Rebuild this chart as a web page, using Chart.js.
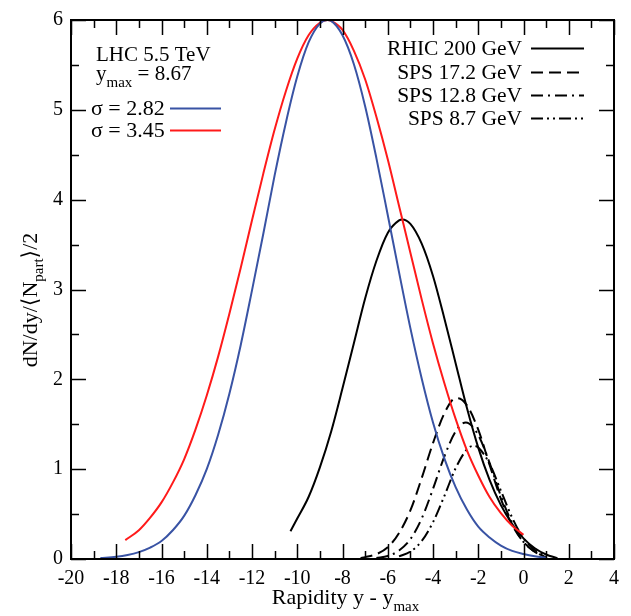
<!DOCTYPE html>
<html>
<head>
<meta charset="utf-8">
<script src="https://cdn.jsdelivr.net/npm/chart.js@4/dist/chart.umd.min.js"></script>
<style>
  html, body { margin: 0; padding: 0; background: #fff; }
  #wrap { width: 631px; height: 616px; }
</style>
</head>
<body>
<div id="wrap"><canvas id="myChart" width="631" height="616"></canvas></div>
<script>
// LHC 5.5 TeV, sigma = 2.82 (blue)
var xBlue = [-18.7, -18, -17.5, -17, -16.5, -16, -15.5, -15, -14.5, -14, -13.5, -13, -12.5, -12, -11.5, -11, -10.5, -10, -9.5, -9, -8.67, -8.5, -8, -7.5, -7, -6.5, -6, -5.5, -5, -4.5, -4, -3.5, -3, -2.5, -2, -1.5, -1, -0.5, 0, 0.5, 1];
var yBlue = [0.01, 0.025, 0.045, 0.077, 0.127, 0.2, 0.32, 0.48, 0.71, 1.0, 1.38, 1.84, 2.38, 2.99, 3.62, 4.27, 4.86, 5.37, 5.75, 5.96, 6.0, 5.99, 5.83, 5.51, 5.04, 4.46, 3.83, 3.19, 2.57, 2.01, 1.52, 1.12, 0.8, 0.55, 0.36, 0.24, 0.15, 0.09, 0.055, 0.03, 0.015];

// LHC 5.5 TeV, sigma = 3.45 (red)
var xRed = [-17.6, -17, -16.5, -16, -15.5, -15, -14.5, -14, -13.5, -13, -12.5, -12, -11.5, -11, -10.5, -10, -9.5, -9, -8.67, -8.5, -8, -7.5, -7, -6.5, -6, -5.5, -5, -4.5, -4, -3.5, -3, -2.5, -2, -1.5, -1, -0.5, 0];
var yRed = [0.21, 0.32, 0.46, 0.63, 0.85, 1.11, 1.44, 1.82, 2.25, 2.73, 3.24, 3.77, 4.29, 4.78, 5.21, 5.57, 5.83, 5.97, 6.0, 5.99, 5.89, 5.66, 5.34, 4.92, 4.45, 3.93, 3.41, 2.89, 2.4, 1.96, 1.56, 1.21, 0.93, 0.69, 0.51, 0.37, 0.27];

// RHIC 200 GeV
var xRhic = [-10.3, -10, -9.5, -9, -8.5, -8, -7.5, -7, -6.5, -6, -5.5, -5.36, -5, -4.5, -4, -3.5, -3, -2.5, -2, -1.5, -1, -0.5, 0, 0.5, 1, 1.5];
var yRhic = [0.31, 0.45, 0.69, 1.02, 1.42, 1.9, 2.4, 2.9, 3.32, 3.63, 3.77, 3.78, 3.73, 3.51, 3.15, 2.68, 2.18, 1.68, 1.24, 0.88, 0.6, 0.39, 0.23, 0.12, 0.05, 0.01];

// SPS 17.2 GeV
var xSps172 = [-7.2, -7, -6.5, -6, -5.5, -5, -4.5, -4, -3.5, -3, -2.9, -2.5, -2, -1.5, -1, -0.5, 0, 0.5, 1];
var ySps172 = [0.01, 0.02, 0.054, 0.13, 0.29, 0.54, 0.9, 1.29, 1.62, 1.79, 1.79, 1.71, 1.44, 1.05, 0.67, 0.38, 0.19, 0.08, 0.02];

// SPS 12.8 GeV
var xSps128 = [-6.5, -6, -5.5, -5, -4.5, -4, -3.5, -3, -2.55, -2, -1.5, -1, -0.5, 0, 0.5, 1];
var ySps128 = [0.01, 0.034, 0.094, 0.22, 0.45, 0.78, 1.14, 1.42, 1.52, 1.38, 1.07, 0.7, 0.4, 0.19, 0.08, 0.02];

// SPS 8.7 GeV
var xSps87 = [-5.5, -5, -4.5, -4, -3.5, -3, -2.5, -2.2, -2, -1.5, -1, -0.5, 0, 0.5, 1];
var ySps87 = [0.03, 0.083, 0.2, 0.41, 0.7, 1.01, 1.22, 1.26, 1.24, 1.06, 0.76, 0.46, 0.23, 0.1, 0.03];

var xTicksMin = -20, xTicksMax = 4;
var yTicksMin = 0, yTicksMax = 6;

function pts(xs, ys) {
    return xs.map(function (v, i) { return { x: v, y: ys[i] }; });
}

var DASH = [12, 6];
var DASHDOT = [12, 5, 2, 5];
var DASHDOTDOT = [12, 4, 2, 4, 2, 4];

function line(label, xs, ys, color, dash) {
    return {
        label: label,
        data: pts(xs, ys),
        borderColor: color,
        borderWidth: 2,
        borderDash: dash,
        pointRadius: 0,
        showLine: true,
        fill: false,
        cubicInterpolationMode: 'monotone'
    };
}

var SERIF = '"Liberation Serif", "DejaVu Serif", serif';

// inward ticks on all four sides, frame, legend texts, axis titles
var decor = {
    id: 'decor',
    afterDraw: function (chart) {
        var ctx = chart.ctx, a = chart.chartArea;
        var sx = chart.scales.x, sy = chart.scales.y;
        ctx.save();
        ctx.strokeStyle = '#000';
        ctx.lineWidth = 1.5;
        ctx.setLineDash([]);
        ctx.beginPath();
        for (var v = xTicksMin; v <= xTicksMax; v += 1) {
            var px = Math.round(sx.getPixelForValue(v)) + 0.5;
            var len = (v % 2 === 0) ? 15 : 8;
            ctx.moveTo(px, a.bottom); ctx.lineTo(px, a.bottom - len);
            ctx.moveTo(px, a.top); ctx.lineTo(px, a.top + len);
        }
        for (var w = yTicksMin; w <= yTicksMax; w += 0.5) {
            var py = Math.round(sy.getPixelForValue(w)) + 0.5;
            var l2 = Number.isInteger(w) ? 15 : 8;
            ctx.moveTo(a.left, py); ctx.lineTo(a.left + l2, py);
            ctx.moveTo(a.right, py); ctx.lineTo(a.right - l2, py);
        }
        ctx.stroke();
        ctx.lineWidth = 2;
        ctx.strokeRect(a.left, a.top, a.right - a.left, a.bottom - a.top);

        // left legend
        ctx.fillStyle = '#000';
        ctx.textAlign = 'left';
        ctx.textBaseline = 'alphabetic';
        ctx.font = '21px ' + SERIF;
        ctx.fillText('LHC 5.5 TeV', 96, 61);
        ctx.fillText('y', 96, 80);
        var wy = ctx.measureText('y').width;
        ctx.font = '15px ' + SERIF;
        ctx.fillText('max', 96 + wy, 87);
        var wm = ctx.measureText('max').width;
        ctx.font = '21px ' + SERIF;
        ctx.fillText(' = 8.67', 96 + wy + wm, 80);
        ctx.font = '22px ' + SERIF;
        ctx.fillText('\u03C3 = 2.82', 91, 115);
        ctx.fillText('\u03C3 = 3.45', 91, 137);
        ctx.lineWidth = 2;
        ctx.strokeStyle = '#3953a4';
        ctx.beginPath(); ctx.moveTo(170, 108.5); ctx.lineTo(221, 108.5); ctx.stroke();
        ctx.strokeStyle = '#ff1a1a';
        ctx.beginPath(); ctx.moveTo(170, 130.5); ctx.lineTo(221, 130.5); ctx.stroke();

        // right legend
        var rows = [
            ['RHIC 200 GeV', 55, []],
            ['SPS 17.2 GeV', 79, DASH],
            ['SPS 12.8 GeV', 102, DASHDOT],
            ['SPS 8.7 GeV', 125, DASHDOTDOT]
        ];
        ctx.font = '21.5px ' + SERIF;
        ctx.textAlign = 'right';
        ctx.strokeStyle = '#000';
        rows.forEach(function (r) {
            ctx.setLineDash([]);
            ctx.fillText(r[0], 522, r[1]);
            ctx.setLineDash(r[2]);
            ctx.beginPath(); ctx.moveTo(531, r[1] - 6.5); ctx.lineTo(584, r[1] - 6.5); ctx.stroke();
        });
        ctx.setLineDash([]);

        // x title
        ctx.textAlign = 'left';
        ctx.font = '22px ' + SERIF;
        var t1 = 'Rapidity y - y';
        var w1 = ctx.measureText(t1).width;
        ctx.font = '15px ' + SERIF;
        var w2 = ctx.measureText('max').width;
        var x0 = (a.left + a.right) / 2 - (w1 + w2) / 2 + 3;
        ctx.font = '22px ' + SERIF;
        ctx.fillText(t1, x0, 604);
        ctx.font = '15px ' + SERIF;
        ctx.fillText('max', x0 + w1, 611);

        // y title (rotated)
        ctx.save();
        ctx.translate(37, 300);
        ctx.rotate(-Math.PI / 2);
        ctx.font = '22px ' + SERIF;
        var p1 = 'dN/dy/\u27E8N', p3 = '\u27E9/2';
        var q1 = ctx.measureText(p1).width, q3 = ctx.measureText(p3).width;
        ctx.font = '15px ' + SERIF;
        var q2 = ctx.measureText('part').width;
        var s0 = -(q1 + q2 + q3) / 2;
        ctx.font = '22px ' + SERIF;
        ctx.fillText(p1, s0, 0);
        ctx.fillText(p3, s0 + q1 + q2, 0);
        ctx.font = '15px ' + SERIF;
        ctx.fillText('part', s0 + q1, 6);
        ctx.restore();

        ctx.restore();
    }
};

var ctx = document.getElementById('myChart');

var myChart = new Chart(ctx, {
    type: 'scatter',
    data: {
        datasets: [
            line('sigma = 2.82', xBlue, yBlue, '#3953a4', []),
            line('sigma = 3.45', xRed, yRed, '#ff1a1a', []),
            line('RHIC 200 GeV', xRhic, yRhic, '#000', []),
            line('SPS 17.2 GeV', xSps172, ySps172, '#000', DASH),
            line('SPS 12.8 GeV', xSps128, ySps128, '#000', DASHDOT),
            line('SPS 8.7 GeV', xSps87, ySps87, '#000', DASHDOTDOT)
        ]
    },
    options: {
        responsive: false,
        animation: false,
        layout: { padding: { left: 0, top: 16, right: 17, bottom: 0 } },
        plugins: { legend: { display: false }, tooltip: { enabled: false } },
        scales: {
            x: {
                type: 'linear',
                min: xTicksMin,
                max: xTicksMax,
                grid: { display: false, drawTicks: false },
                border: { display: false },
                ticks: {
                    stepSize: 2,
                    padding: 8,
                    color: '#000',
                    font: { family: SERIF, size: 20 },
                    maxRotation: 0
                },
                afterFit: function (s) { s.height = 57; }
            },
            y: {
                type: 'linear',
                min: yTicksMin,
                max: yTicksMax,
                grid: { display: false, drawTicks: false },
                border: { display: false },
                ticks: {
                    stepSize: 1,
                    padding: 8,
                    color: '#000',
                    font: { family: SERIF, size: 20 }
                },
                afterFit: function (s) { s.width = 71; }
            }
        }
    },
    plugins: [decor]
});
</script>
</body>
</html>
